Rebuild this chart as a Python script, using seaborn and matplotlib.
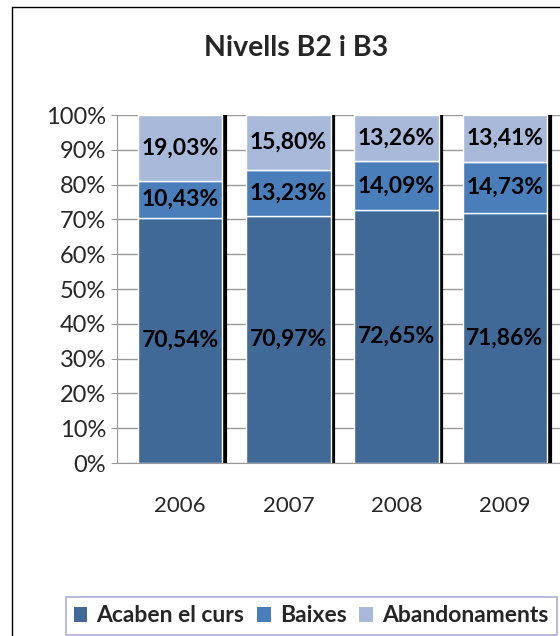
import numpy as np
import pandas as pd
from matplotlib import pyplot as plt
from matplotlib.lines import Line2D
from matplotlib.patches import Patch
import seaborn as sns

years = ["2006", "2007", "2008", "2009"]
acaben = [70.54, 70.97, 72.65, 71.86]
baixes = [10.43, 13.23, 14.09, 14.73]
abandonaments = [19.03, 15.80, 13.26, 13.41]
series_names = ["Acaben el curs", "Baixes", "Abandonaments"]
colors = ["#416998", "#4a7ebb", "#a8b9d9"]

sns.set_style("white")
plt.rcParams['font.family'] = ['Lato', 'DejaVu Sans']

df = pd.DataFrame({"year": years, "Acaben el curs": acaben,
                   "Baixes": baixes, "Abandonaments": abandonaments})

fig = plt.figure(figsize=(5.6, 6.36), dpi=100)
ax = fig.add_axes([0.209, 0.272, 0.791, 0.547])

bar_w = 0.78
# black shadow line on right of each bar
totals = df[series_names].sum(axis=1)
for i, t in enumerate(totals):
    ax.vlines(i + bar_w / 2 + 0.025, 0, t, color="black", lw=3, zorder=2)

bottom = np.zeros(len(years))
for name, col in zip(series_names, colors):
    sns.barplot(data=df, x="year", y=name, bottom=bottom, color=col, width=bar_w,
                edgecolor="white", linewidth=1, ax=ax, zorder=3, saturation=1)
    for i, v in enumerate(df[name]):
        ax.text(i, bottom[i] + v / 2, f"{v:.2f}%".replace(".", ","), ha="center", va="center",
                fontsize=16.5, fontweight="bold", color="black", zorder=4)
    bottom = bottom + df[name].values

ax.set_xlim(-0.583, 3.51)
ax.set_ylim(0, 100)
ax.set_yticks(range(0, 101, 10))
ax.set_yticklabels([f"{v}%" for v in range(0, 101, 10)])
ax.yaxis.grid(True, color="#999999", lw=1, zorder=0)
ax.set_axisbelow(True)
ax.set_xlabel("")
ax.set_ylabel("")
for s in ["top", "right"]:
    ax.spines[s].set_visible(False)
for s in ["left", "bottom"]:
    ax.spines[s].set_color("#999999")
ax.tick_params(axis="y", labelsize=17, pad=4, left=True, length=4, color="#999999")
ax.tick_params(axis="x", labelsize=16, pad=20, bottom=False)

fig.text(296 / 560, 1 - 48 / 636, "Nivells B2 i B3", ha="center", va="center",
         fontsize=20.5, fontweight="bold")

handles = [Patch(facecolor=c, edgecolor="none") for c in colors]
leg = fig.legend(handles, series_names, loc="center", bbox_to_anchor=(311 / 560, 1 - 616 / 636),
                 ncol=3, frameon=True, fancybox=False, handlelength=0.6, handleheight=0.6,
                 handletextpad=0.4, columnspacing=0.55, prop={"weight": "bold", "size": 16.5},
                 borderpad=0.35, borderaxespad=0)
leg.get_frame().set_edgecolor("#9a9ad0")
leg.get_frame().set_linewidth(1.2)

# outer chart border (left and top edges visible)
fig.add_artist(Line2D([12 / 560, 12 / 560], [0, 1 - 7 / 636], color="black", lw=1, transform=fig.transFigure))
fig.add_artist(Line2D([12 / 560, 1], [1 - 7 / 636, 1 - 7 / 636], color="black", lw=1, transform=fig.transFigure))

fig.savefig("out.png", dpi=100)
